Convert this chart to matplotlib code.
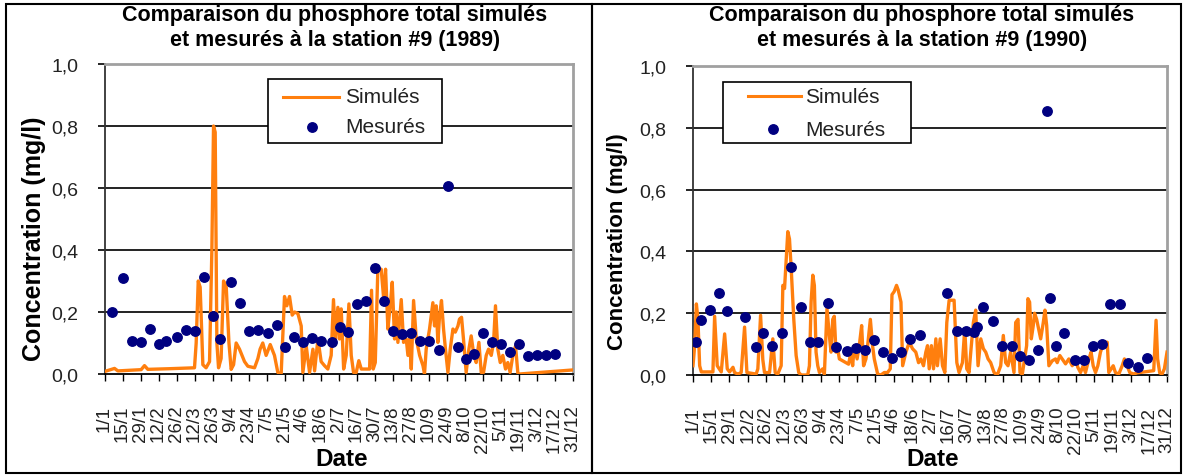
import matplotlib
matplotlib.use("Agg")
import matplotlib.pyplot as plt
from matplotlib.patches import Rectangle
from matplotlib.lines import Line2D

plt.rcParams['font.family'] = ['Liberation Sans', 'DejaVu Sans']

W, H = 1185, 477

# x axis labels, one every 14 days (day 0 = 1/1)
tick_days = list(range(0, 365, 14))
tick_labels = ['1/1', '15/1', '29/1', '12/2', '26/2', '12/3', '26/3', '9/4', '23/4',
               '7/5', '21/5', '4/6', '18/6', '2/7', '16/7', '30/7', '13/8', '27/8',
               '10/9', '24/9', '8/10', '22/10', '5/11', '19/11', '3/12', '17/12', '31/12']

# 1989 - simulated (vertices of the daily curve)
sim89_day = [0, 7.8, 10.4, 28.5, 31.1, 33.7, 50, 70, 71.3, 72.9, 74.4, 76.5, 79, 81.7, 83.5,
             84.8, 86.1, 87.4, 88.7, 90.7, 92.6, 94.7, 96.8, 98.5, 100.4, 102.4, 105, 108.9,
             111.5, 116.7, 119.3, 121, 123.1, 125.7, 128.9, 132.2, 134.8, 137.4, 140, 141.8,
             143.9, 146, 147.8, 150.4, 153, 154.3, 156.9, 159.5, 162.1, 163.4, 166, 168.5,
             171.1, 173.7, 176.3, 178.1, 179.7, 181.5, 182.8, 184.1, 186, 188, 190.1, 191.9,
             193.7, 195.8, 197.8, 199.7, 206.2, 207.7, 209, 210.6, 212.6, 215.2, 217, 218.6,
             220.4, 222.2, 223.8, 225.6, 226.9, 228.2, 230.8, 232.6, 234.7, 236, 237.3, 238.6,
             240.4, 242.5, 245.1, 247.7, 248.9, 250.2, 252.8, 255.4, 256.7, 258, 259.3, 260.6,
             262.1, 263.7, 265.2, 267.1, 268.9, 271, 272.8, 274.9, 276.1, 277.7, 279.2, 281.3,
             283.4, 285.2, 287.3, 289.1, 291.2, 293, 294.8, 296.9, 298.7, 300.8, 302.6, 304.1,
             305.9, 307.8, 309.8, 311.9, 313.7, 315.5, 317.6, 319.7, 321.5, 322.8, 364]
sim89_val = [0.008, 0.018, 0.01, 0.014, 0.027, 0.015, 0.017, 0.02, 0.1, 0.30, 0.28, 0.03, 0.02,
             0.04, 0.4, 0.80, 0.78, 0.1, 0.02, 0.05, 0.30, 0.28, 0.1, 0.015, 0.03, 0.10, 0.08,
             0.04, 0.025, 0.02, 0.05, 0.08, 0.10, 0.06, 0.095, 0.06, 0.005, 0.0, 0.25, 0.22,
             0.25, 0.19, 0.20, 0.195, 0.155, 0.005, 0.09, 0.005, 0.08, 0.01, 0.113, 0.04,
             0.027, 0.016, 0.06, 0.24, 0.113, 0.215, 0.113, 0.21, 0.016, 0.06, 0.226, 0.06,
             0.005, 0.005, 0.043, 0.016, 0.016, 0.27, 0.016, 0.037, 0.338, 0.338, 0.25, 0.338,
             0.145, 0.22, 0.296, 0.113, 0.2, 0.102, 0.24, 0.102, 0.113, 0.06, 0.113, 0.016,
             0.237, 0.113, 0.06, 0.027, 0.0, 0.08, 0.145, 0.23, 0.155, 0.22, 0.102, 0.188,
             0.237, 0.145, 0.08, 0.005, 0.08, 0.145, 0.135, 0.155, 0.177, 0.183, 0.113, 0.005,
             0.08, 0.123, 0.06, 0.037, 0.102, 0.005, 0.005, 0.06, 0.08, 0.06, 0.102, 0.22,
             0.08, 0.037, 0.06, 0.016, 0.037, 0.005, 0.06, 0.09, 0.003, 0.0, 0.013]

# 1989 - measured
mes89_day = [6, 14, 21, 28, 35, 42, 48, 56, 63, 70, 77, 84, 90, 98, 105, 112, 119, 127, 134,
             140, 147, 154, 161, 168, 177, 183, 189, 196, 203, 210, 217, 224, 231, 238, 245,
             252, 260, 267, 275, 281, 287, 294, 301, 308, 315, 322, 329, 336, 343, 350]
mes89_val = [0.199, 0.309, 0.107, 0.102, 0.145, 0.097, 0.107, 0.118, 0.142, 0.138, 0.314,
             0.186, 0.113, 0.296, 0.229, 0.138, 0.142, 0.131, 0.159, 0.088, 0.118, 0.102,
             0.115, 0.107, 0.102, 0.151, 0.134, 0.226, 0.234, 0.341, 0.234, 0.14, 0.129,
             0.131, 0.107, 0.106, 0.077, 0.607, 0.086, 0.048, 0.065, 0.131, 0.102, 0.097,
             0.072, 0.097, 0.059, 0.062, 0.062, 0.065]

# 1990 - simulated
sim90_day = [0, 1.3, 2.6, 3.8, 5.1, 6.4, 15.3, 16.6, 18.6, 21.7, 24.3, 26.3, 28.1, 30.7, 31.9,
             34.5, 37, 39.6, 41.4, 48.5, 49.8, 51.9, 53.6, 54.9, 58.8, 61.3, 63.1, 65.1, 67.7,
             69, 70.3, 71.5, 72.8, 74.1, 75.4, 77.4, 79.2, 81.2, 83, 88.1, 89.4, 90.7, 92,
             93.2, 94.5, 95.8, 97.1, 99.6, 100.9, 102.9, 104.7, 106, 107.3, 108.5, 109.8,
             111.1, 112.4, 114.9, 117.5, 119.5, 121.3, 122.6, 123.9, 126, 127.7, 129.5, 131,
             132.8, 134.1, 136.2, 137.9, 139.2, 141.8, 144.3, 146.9, 149.4, 151.5, 152.8,
             154.5, 156.3, 157.6, 159.7, 161, 163.5, 166.1, 168.6, 171.1, 173.2, 175, 177,
             178.8, 180.1, 181.4, 183.1, 184.7, 186.5, 187.7, 189.8, 191.6, 193.4, 194.9,
             196.7, 200.5, 202.6, 204.3, 206.9, 208.7, 210.2, 212, 213.3, 215.3, 217.1, 218.9,
             221, 223, 224.8, 226.6, 228.6, 231.2, 233.7, 236.3, 238.3, 240.1, 241.9, 243.9,
             246.5, 247.8, 249.6, 251.1, 252.9, 254.7, 256.2, 257.2, 258.5, 259.8, 261.3,
             262.3, 263.9, 264.9, 267, 269, 270.3, 271.6, 273.3, 275.9, 278.4, 279.7, 281.7,
             283.5, 286.1, 288.6, 291.2, 293.8, 295.5, 297.6, 299.6, 301.4, 304, 305.7, 307.3,
             309.1, 310.9, 312.9, 315.5, 318.1, 319.3, 322.7, 324.4, 327, 329.6, 331.3, 333.4,
             335.4, 338.5, 341.1, 353.8, 355.6, 356.8, 358.4, 360.2, 362, 364]
sim90_val = [0.03, 0.095, 0.23, 0.18, 0.03, 0.01, 0.01, 0.19, 0.03, 0.01, 0.133, 0.02, 0.01,
             0.025, 0.008, 0.003, 0.008, 0.155, 0.008, 0.003, 0.02, 0.193, 0.05, 0.008, 0.008,
             0.117, 0.008, 0.003, 0.03, 0.29, 0.28, 0.366, 0.464, 0.44, 0.345, 0.18, 0.063,
             0.008, 0.0, 0.0, 0.03, 0.236, 0.323, 0.29, 0.074, 0.03, 0.008, 0.02, 0.003, 0.215,
             0.128, 0.074, 0.18, 0.19, 0.074, 0.085, 0.052, 0.046, 0.04, 0.035, 0.074, 0.03,
             0.095, 0.052, 0.095, 0.16, 0.03, 0.052, 0.095, 0.18, 0.095, 0.052, 0.003, 0.0,
             0.008, 0.008, 0.02, 0.26, 0.27, 0.29, 0.275, 0.236, 0.03, 0.074, 0.106, 0.085,
             0.074, 0.04, 0.052, 0.03, 0.074, 0.095, 0.02, 0.095, 0.02, 0.117, 0.03, 0.117,
             0.03, 0.008, 0.17, 0.242, 0.242, 0.04, 0.008, 0.04, 0.15, 0.02, 0.008, 0.074, 0.17,
             0.21, 0.03, 0.117, 0.085, 0.074, 0.052, 0.04, 0.008, 0.0, 0.03, 0.128, 0.04, 0.03,
             0.074, 0.008, 0.17, 0.18, 0.008, 0.003, 0.052, 0.095, 0.247, 0.236, 0.117, 0.16,
             0.2, 0.18, 0.16, 0.117, 0.17, 0.21, 0.16, 0.03, 0.046, 0.052, 0.04, 0.063, 0.052,
             0.036, 0.052, 0.03, 0.052, 0.025, 0.008, 0.03, 0.008, 0.052, 0.074, 0.03, 0.008,
             0.03, 0.074, 0.106, 0.106, 0.008, 0.03, 0.008, 0.003, 0.03, 0.052, 0.03, 0.008,
             0.003, 0.007, 0.014, 0.177, 0.052, 0.007, 0.003, 0.02, 0.074]

# 1990 - measured
mes90_day = [2, 6, 13, 20, 26, 40, 48, 54, 61, 68, 75, 83, 90, 96, 104, 110, 118, 125, 132,
             139, 146, 153, 160, 167, 174, 195, 203, 210, 216, 218, 223, 230, 237, 245, 251,
             258, 265, 272, 274, 279, 285, 293, 300, 307, 314, 320, 328, 334, 342, 349]
mes90_val = [0.106, 0.177, 0.209, 0.266, 0.206, 0.188, 0.092, 0.137, 0.095, 0.137, 0.348,
             0.22, 0.106, 0.106, 0.233, 0.09, 0.077, 0.088, 0.081, 0.112, 0.074, 0.055, 0.074,
             0.117, 0.13, 0.266, 0.142, 0.142, 0.139, 0.155, 0.22, 0.175, 0.095, 0.095, 0.063,
             0.05, 0.082, 0.854, 0.25, 0.095, 0.136, 0.05, 0.05, 0.093, 0.1, 0.229, 0.229,
             0.038, 0.025, 0.055]

ORANGE = '#FF7F0E'
NAVY = '#000080'


def px_rect(x0, y0, x1, y1):
    # pixel box (top-left origin) -> figure fraction rect
    return [x0 / W, 1 - y1 / H, (x1 - x0) / W, (y1 - y0) / H]


def draw_panel(fig, rect, sim_d, sim_v, mes_d, mes_v, leg):
    ax = fig.add_axes(rect)
    ax.plot(sim_d, sim_v, color=ORANGE, lw=2.4, zorder=3, solid_joinstyle='round')
    ax.plot(mes_d, mes_v, 'o', color=NAVY, ms=6.8, zorder=4)
    ax.set_xlim(0, 364)
    ax.set_ylim(0, 1.0)
    ax.set_yticks([0, 0.2, 0.4, 0.6, 0.8, 1.0])
    ax.set_yticklabels(['0,0', '0,2', '0,4', '0,6', '0,8', '1,0'])
    ax.set_xticks(tick_days)
    ax.set_xticklabels(tick_labels, rotation=90, va='top', ha='center')
    for y in [0.2, 0.4, 0.6, 0.8]:
        ax.axhline(y, color='#111111', lw=1.3, zorder=1)
    ax.tick_params(axis='y', direction='out', length=5, width=1.2, pad=14,
                   labelsize=14, labelcolor='#222222')
    ax.tick_params(axis='x', direction='out', length=5, width=1.0, pad=17,
                   labelsize=13.5, labelcolor='#222222')
    ax.spines['top'].set_color('#a0a0a0')
    ax.spines['right'].set_color('#a0a0a0')
    ax.spines['top'].set_linewidth(2)
    ax.spines['right'].set_linewidth(2)
    ax.spines['left'].set_color('#333333')
    ax.spines['left'].set_linewidth(1.3)
    ax.spines['bottom'].set_linewidth(1.3)

    # legend box, drawn in axes fractions
    bx0, bx1, by0, by1, lx0, lx1, mx, tx, y1, y2 = leg
    ax.add_patch(Rectangle((bx0, by0), bx1 - bx0, by1 - by0, transform=ax.transAxes,
                           facecolor='white', edgecolor='black', lw=1.2, zorder=5))
    ax.add_line(Line2D([lx0, lx1], [y1, y1], transform=ax.transAxes, color=ORANGE,
                       lw=2.2, zorder=6))
    ax.add_line(Line2D([mx], [y2], transform=ax.transAxes, marker='o', ms=6.8,
                       color=NAVY, zorder=6))
    ax.text(tx, y1, 'Simulés', transform=ax.transAxes, fontsize=15, va='center',
            ha='left', color='#222222', zorder=6)
    ax.text(tx, y2, 'Mesurés', transform=ax.transAxes, fontsize=15, va='center',
            ha='left', color='#222222', zorder=6)
    return ax


fig = plt.figure(figsize=(W / 100, H / 100), dpi=100)

draw_panel(fig, px_rect(104.5, 65, 572.5, 375), sim89_day, sim89_val, mes89_day, mes89_val,
           (0.349, 0.721, 0.745, 0.952, 0.382, 0.501, 0.443, 0.514, 0.894, 0.797))
draw_panel(fig, px_rect(693, 67, 1167, 376), sim90_day, sim90_val, mes90_day, mes90_val,
           (0.063, 0.460, 0.751, 0.948, 0.115, 0.227, 0.169, 0.236, 0.902, 0.796))

# titles
fig.text(335 / W, 1 - 28 / H, 'Comparaison du phosphore total simulés\n'
         'et mesurés à la station #9 (1989)', ha='center', va='center',
         fontsize=15.5, fontweight='bold', linespacing=1.2)
fig.text(922 / W, 1 - 28 / H, 'Comparaison du phosphore total simulés\n'
         'et mesurés à la station #9 (1990)', ha='center', va='center',
         fontsize=15.5, fontweight='bold', linespacing=1.2)

# axis titles
fig.text(34 / W, 1 - 239 / H, 'Concentration (mg/l)', rotation=90, ha='center',
         va='center', fontsize=18, fontweight='bold')
fig.text(617 / W, 1 - 242 / H, 'Concentration (mg/l)', rotation=90, ha='center',
         va='center', fontsize=16, fontweight='bold')
fig.text(342 / W, 1 - 460 / H, 'Date', ha='center', va='center', fontsize=17.5,
         fontweight='bold')
fig.text(933 / W, 1 - 460 / H, 'Date', ha='center', va='center', fontsize=17.5,
         fontweight='bold')

# outer frames around the two charts
fig.add_artist(Rectangle((6 / W, 1 - 474 / H), (592 - 6) / W, (474 - 5) / H,
                         transform=fig.transFigure, fill=False, edgecolor='black', lw=1.5))
fig.add_artist(Rectangle((592 / W, 1 - 474 / H), (1181 - 592) / W, (474 - 5) / H,
                         transform=fig.transFigure, fill=False, edgecolor='black', lw=1.5))

fig.savefig('out.png', dpi=100)
